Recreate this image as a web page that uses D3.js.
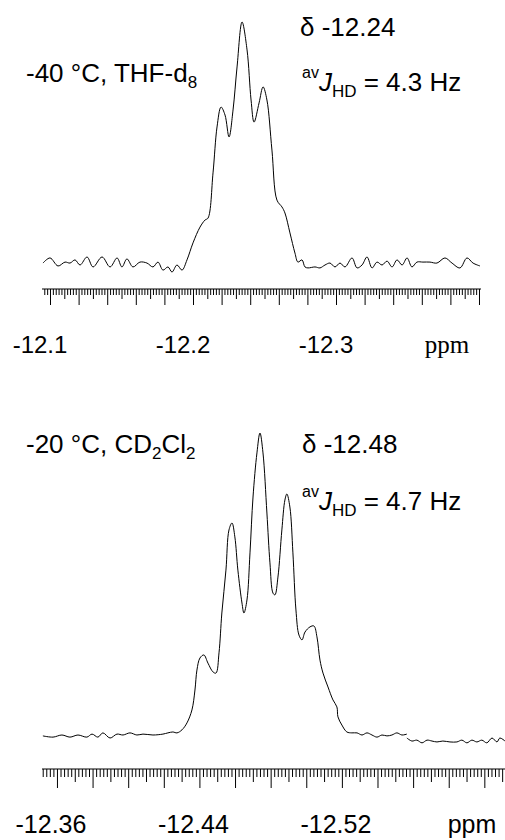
<!DOCTYPE html>
<html>
<head>
<meta charset="utf-8">
<script src="https://cdn.jsdelivr.net/npm/d3@7"></script>
<style>
  html, body { margin: 0; padding: 0; background: #fff; }
  svg { display: block; }
  text { font-family: "Liberation Sans", Arial, Helvetica, sans-serif; fill: #000; }
</style>
</head>
<body>
<svg id="chart" width="505" height="840"></svg>
<script>
// ---------- DATA ----------
// Top spectrum: -40 °C, THF-d8 (chemical shift in ppm, relative intensity)
const topPpm = [-12.0951,-12.1000,-12.1056,-12.1105,-12.1140,-12.1175,-12.1210,-12.1259,-12.1301,-12.1364,
  -12.1420,-12.1469,-12.1503,-12.1538,-12.1580,-12.1629,-12.1678,-12.1720,-12.1755,-12.1790,
  -12.1825,-12.1853,-12.1888,-12.1923,-12.1958,-12.2000,-12.2049,-12.2084,-12.2105,-12.2140,
  -12.2168,-12.2196,-12.2224,-12.2252,-12.2280,-12.2308,-12.2343,-12.2378,-12.2406,-12.2427,
  -12.2462,-12.2490,-12.2517,-12.2552,-12.2587,-12.2622,-12.2643,-12.2678,-12.2713,-12.2734,
  -12.2762,-12.2783,-12.2804,-12.2853,-12.2888,-12.2923,-12.2958,-12.2993,-12.3028,-12.3063,
  -12.3112,-12.3147,-12.3182,-12.3217,-12.3252,-12.3287,-12.3322,-12.3357,-12.3392,-12.3427,
  -12.3462,-12.3497,-12.3531,-12.3566,-12.3608,-12.3657,-12.3706,-12.3762,-12.3811,-12.3867,
  -12.3916,-12.3958,-12.4007];
const topIntensity = [0.8,2.9,-0.4,1.2,0.8,2.1,0,3.3,-0.8,3.3,
  -0.8,2.9,-0.8,2.5,-0.8,1.2,0.8,-0.8,1.2,-2.1,
  -0.8,-2.9,0,-2.1,2.1,9.1,15.6,18.5,19.3,37.9,
  56.8,65.0,61.7,52.7,63.8,81.5,100,88.5,67.9,58.8,
  66.7,73.3,67.9,47.3,26.7,23.9,21.4,13.2,4.9,1.2,
  2.1,-0.8,-1.2,-0.8,-1.2,0,0.8,-0.8,0.8,-0.8,
  2.9,-1.2,0,3.3,-1.2,1.2,0,1.6,-0.8,2.1,
  0,2.9,-0.8,1.2,1.2,1.2,0.8,2.9,0.8,-1.2,
  2.9,0.8,-0.4];

// Bottom spectrum: -20 °C, CD2Cl2 (recorded in two pieces)
const botPpmA = [-12.3521,-12.3578,-12.3628,-12.3673,-12.3718,-12.3768,-12.3797,-12.3830,-12.3858,-12.3898,
  -12.3937,-12.3971,-12.4010,-12.4049,-12.4083,-12.4139,-12.4195,-12.4223,-12.4251,-12.4274,
  -12.4302,-12.4330,-12.4358,-12.4375,-12.4386,-12.4403,-12.4425,-12.4448,-12.4476,-12.4493,
  -12.4510,-12.4526,-12.4549,-12.4566,-12.4583,-12.4599,-12.4616,-12.4639,-12.4650,-12.4667,
  -12.4684,-12.4701,-12.4723,-12.4740,-12.4757,-12.4779,-12.4796,-12.4813,-12.4824,-12.4841,
  -12.4863,-12.4880,-12.4891,-12.4908,-12.4925,-12.4942,-12.4959,-12.4976,-12.4993,-12.5021,
  -12.5043,-12.5060,-12.5077,-12.5094,-12.5122,-12.5150,-12.5172,-12.5178,-12.5200,-12.5228,
  -12.5256,-12.5285,-12.5313,-12.5341,-12.5369,-12.5397,-12.5425,-12.5453,-12.5481,-12.5509,
  -12.5537,-12.5565];
const botIntensityA = [-0.3,-0.7,0,-0.7,0,-0.7,0.3,-0.7,0.7,-1.0,
  0.3,0,0.7,0,0.3,0,0.3,0.7,1.0,0.7,
  1.7,4.0,8.3,14.9,21.5,25.5,26.5,23.8,20.9,20.5,
  27.2,40.4,54.6,67.9,70.2,65.6,54.6,43.7,40.4,44.7,
  60.3,78.8,93.4,100,93.4,73.5,57.0,47.0,46.4,52.3,
  67.9,77.8,79.8,75.5,60.3,41.4,33.1,31.5,34.1,35.8,
  36.1,32.5,24.8,20.5,15.9,11.6,9.3,6.0,3.3,1.0,
  0.7,0.7,0,0.7,0,-0.7,0,-0.3,0,0.7,
  0,0.3];
const botPpmB = [-12.5565,-12.5593,-12.5621,-12.5650,-12.5678,-12.5706,-12.5734,-12.5767,-12.5807,-12.5846,
  -12.5874,-12.5902,-12.5930,-12.5958,-12.5986,-12.6014,-12.6043,-12.6071,-12.6087,-12.6116];
const botIntensityB = [-1.0,-2.0,-1.7,-2.6,-1.7,-2.0,-2.3,-2.0,-2.3,-2.3,
  -1.7,-2.6,-1.7,-2.3,-1.7,-2.6,-1.0,-2.3,-1.0,-2.0];

// Axis extents and labels
const topAxisExtent = [-12.0944, -12.4014];
const botAxisExtent = [-12.3516, -12.6116];
const topTickLabels = [-12.1, -12.2, -12.3];
const botTickLabels = [-12.36, -12.44, -12.52];
const tickStep = 0.002;

// ---------- DRAW ----------
const svg = d3.select("#chart");
svg.append("rect").attr("width", 505).attr("height", 840).attr("fill", "#fff");

function ruler(g, x, extent, y0, lens, labels, decimals, labelDx, labelY, fs) {
  const iStart = Math.ceil(Math.abs(extent[0]) / tickStep - 1e-6);
  const iEnd = Math.floor(Math.abs(extent[1]) / tickStep + 1e-6);
  const idx = d3.range(iStart, iEnd + 1);
  const groups = [
    idx.filter(i => i % 10 !== 0 && i % 5 !== 0),
    idx.filter(i => i % 10 === 5),
    idx.filter(i => i % 10 === 0)
  ];
  groups.forEach((grp, k) => {
    const ax = d3.axisBottom(x)
      .tickValues(grp.map(i => -i * tickStep))
      .tickSize(lens[k])
      .tickFormat("");
    const a = g.append("g").attr("transform", `translate(0,${y0})`).call(ax);
    a.select(".domain").remove();
    a.selectAll(".tick line").attr("stroke", "#000").attr("stroke-width", 1);
  });
  g.append("line")
    .attr("x1", x(extent[0])).attr("x2", x(extent[1]))
    .attr("y1", y0).attr("y2", y0)
    .attr("stroke", "#000").attr("stroke-width", 1.2);
  g.selectAll("text.tl").data(labels).enter().append("text")
    .attr("class", "tl")
    .attr("x", d => x(d) + labelDx)
    .attr("y", labelY)
    .attr("text-anchor", "middle")
    .attr("font-size", fs)
    .text(d => d.toFixed(decimals));
}

// ----- Top panel -----
const xTop = d3.scaleLinear().domain(topAxisExtent).range([42, 481]);
const yTop = d3.scaleLinear().domain([0, 100]).range([265, 22]);
const gTop = svg.append("g");
const lineTop = d3.line()
  .x(d => xTop(d[0])).y(d => yTop(d[1]))
  .curve(d3.curveCatmullRom.alpha(0.5));
gTop.append("path")
  .datum(d3.zip(topPpm, topIntensity))
  .attr("d", lineTop)
  .attr("fill", "none").attr("stroke", "#000").attr("stroke-width", 1);
ruler(gTop, xTop, topAxisExtent, 289, [6, 10, 16], topTickLabels, 1, -10, 353, 24);
gTop.append("text").attr("x", 447).attr("y", 353).attr("text-anchor", "middle")
  .attr("font-size", 25).style("font-family", "'Liberation Serif', 'Times New Roman', serif")
  .text("ppm");

// annotations top
const tA = gTop.append("text").attr("x", 26).attr("y", 82).attr("font-size", 26);
tA.append("tspan").text("-40 °C, THF-d");
tA.append("tspan").attr("font-size", 17).attr("dy", 6).text("8");

gTop.append("text").attr("x", 300).attr("y", 36).attr("font-size", 26).text("δ -12.24");

function jText(g, x, y, val) {
  const t = g.append("text").attr("x", x).attr("y", y).attr("font-size", 26);
  t.append("tspan").attr("font-size", 16).attr("dy", -13).text("av");
  t.append("tspan").attr("font-style", "italic").attr("dy", 13).text("J");
  t.append("tspan").attr("font-size", 17).attr("dy", 6).text("HD");
  t.append("tspan").attr("dy", -6).text(" = " + val + " Hz");
}
jText(gTop, 302, 91, "4.3");

// ----- Bottom panel -----
const xBot = d3.scaleLinear().domain(botAxisExtent).range([42, 505]);
const yBot = d3.scaleLinear().domain([0, 100]).range([735, 433]);
const gBot = svg.append("g");
const lineBot = d3.line()
  .x(d => xBot(d[0])).y(d => yBot(d[1]))
  .curve(d3.curveCatmullRom.alpha(0.5));
[[botPpmA, botIntensityA], [botPpmB, botIntensityB]].forEach(([p, v]) => {
  gBot.append("path")
    .datum(d3.zip(p, v))
    .attr("d", lineBot)
    .attr("fill", "none").attr("stroke", "#000").attr("stroke-width", 1);
});
ruler(gBot, xBot, botAxisExtent, 769, [8, 13, 19], botTickLabels, 2, -6, 833, 25);
gBot.append("text").attr("x", 472).attr("y", 833).attr("text-anchor", "middle")
  .attr("font-size", 25).text("ppm");

const tB = gBot.append("text").attr("x", 26).attr("y", 453).attr("font-size", 26);
tB.append("tspan").text("-20 °C, CD");
tB.append("tspan").attr("font-size", 17).attr("dy", 6).text("2");
tB.append("tspan").attr("dy", -6).text("Cl");
tB.append("tspan").attr("font-size", 17).attr("dy", 6).text("2");

gBot.append("text").attr("x", 302).attr("y", 453).attr("font-size", 26).text("δ -12.48");
jText(gBot, 302, 510, "4.7");
</script>
</body>
</html>
